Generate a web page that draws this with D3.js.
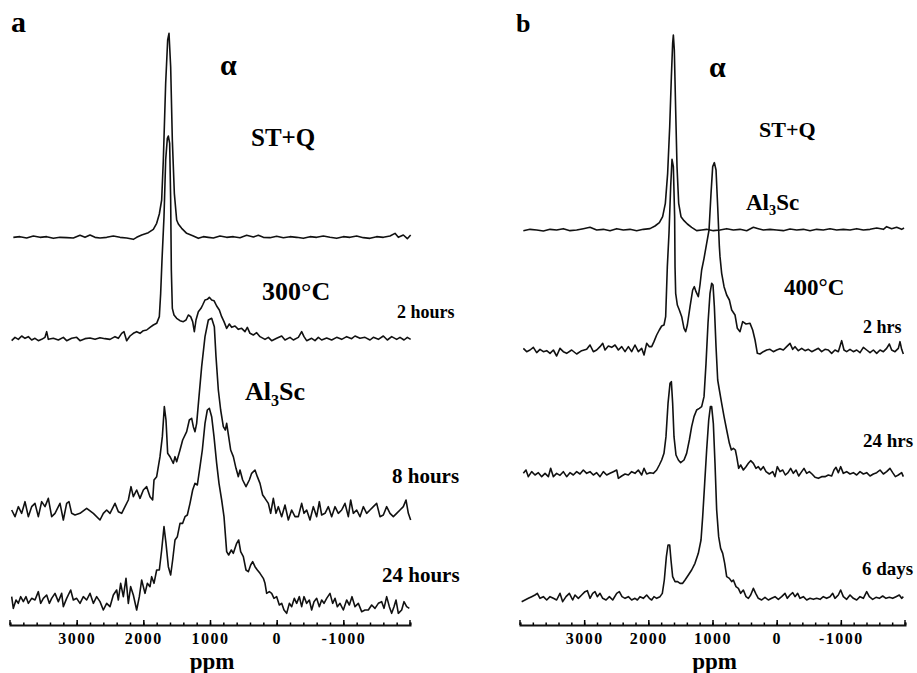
<!DOCTYPE html>
<html>
<head>
<meta charset="utf-8">
<script src="https://cdn.jsdelivr.net/npm/d3@7"></script>
<style>
  html, body { margin: 0; padding: 0; background: #fff; }
  svg { display: block; }
  text { font-family: "Liberation Serif", "Times New Roman", serif; font-weight: bold; fill: #000; }
</style>
</head>
<body>
<svg id="chart" width="917" height="673"></svg>
<script>
// ---------------- DATA ----------------
const ppmDomain = [4000, -2000];
const majorTicks = [3000, 2000, 1000, 0, -1000];
const tickLabels = ["3000", "2000", "1000", "0", "-1000"];
const minorTicks = d3.range(-2000, 4001, 200);

// Panel a (300 C) : [ppm, intensity (a.u.)]
const a_STQ = [[3950,0],[3850,2],[3750,-2],[3650,4],[3550,0],[3450,2],[3350,-3],[3250,0],[3150,-1],[3050,-2],[2950,6],[2875,0],[2800,7],[2725,0],[2650,-2],[2550,0],[2450,4],[2350,0],[2250,-2],[2150,-6],[2100,0],[2025,7],[1925,14],[1850,24],[1800,42],[1760,70],[1725,112],[1700,232],[1665,462],[1635,592],[1615,612],[1590,512],[1565,292],[1535,132],[1500,52],[1475,40],[1425,27],[1350,12],[1250,4],[1175,-3],[1100,2],[1025,0],[950,-2],[850,4],[750,0],[650,2],[550,-1],[450,6],[350,1],[275,6],[200,0],[100,-1],[0,3],[-100,-1],[-200,2],[-300,0],[-400,-3],[-500,2],[-600,0],[-700,4],[-800,0],[-900,-3],[-1000,2],[-1100,0],[-1200,4],[-1300,-1],[-1400,-3],[-1500,2],[-1600,0],[-1700,4],[-1775,12],[-1825,0],[-1900,7],[-1960,-4],[-2010,7]];

const a_2h = [[3975,-4],[3925,6],[3875,0],[3825,10],[3775,3],[3725,8],[3675,-2],[3625,3],[3575,-4],[3525,0],[3475,6],[3450,23],[3425,0],[3350,3],[3275,-2],[3200,6],[3150,-4],[3075,3],[3000,6],[2950,-4],[2875,2],[2800,4],[2725,0],[2650,5],[2575,2],[2500,0],[2425,8],[2375,3],[2325,18],[2290,23],[2250,-4],[2200,10],[2150,18],[2100,23],[2050,18],[2000,26],[1950,28],[1900,36],[1850,43],[1800,48],[1760,68],[1740,138],[1720,238],[1690,368],[1665,538],[1640,603],[1625,610],[1605,588],[1590,418],[1580,208],[1565,93],[1540,73],[1500,63],[1450,56],[1400,53],[1360,58],[1325,73],[1290,68],[1260,53],[1235,23],[1210,58],[1175,83],[1135,93],[1110,103],[1075,118],[1040,120],[1010,126],[975,118],[940,116],[900,100],[860,88],[825,68],[790,53],[750,33],[710,46],[675,36],[625,40],[575,30],[525,33],[475,23],[440,36],[400,18],[350,13],[300,20],[250,8],[175,0],[125,6],[75,-4],[0,3],[-75,10],[-125,-2],[-200,6],[-250,-2],[-325,6],[-375,23],[-410,8],[-450,-4],[-525,3],[-575,-4],[-625,6],[-675,-2],[-750,4],[-825,-2],[-900,6],[-975,0],[-1050,8],[-1125,2],[-1175,10],[-1250,3],[-1325,6],[-1400,-2],[-1450,6],[-1525,0],[-1600,10],[-1660,-2],[-1725,8],[-1800,0],[-1850,6],[-1910,-2],[-1960,6],[-2010,0]];

const a_8h = [[3975,10],[3925,-10],[3875,20],[3825,0],[3775,35],[3725,-10],[3675,20],[3625,30],[3575,-10],[3525,35],[3475,20],[3425,45],[3375,-10],[3325,0],[3250,30],[3200,-20],[3150,30],[3115,35],[3075,0],[3025,-5],[2950,0],[2850,15],[2750,0],[2650,-20],[2600,0],[2550,10],[2500,0],[2425,30],[2375,5],[2325,0],[2275,20],[2225,40],[2185,80],[2150,50],[2100,70],[2050,45],[2000,70],[1950,80],[1900,50],[1860,40],[1840,100],[1800,110],[1750,170],[1715,230],[1685,320],[1660,280],[1635,180],[1600,170],[1575,160],[1550,150],[1525,170],[1500,155],[1450,190],[1410,220],[1350,245],[1310,280],[1275,285],[1250,260],[1225,245],[1200,270],[1165,350],[1125,440],[1075,530],[1025,580],[975,585],[935,560],[910,470],[875,370],[840,310],[800,260],[770,250],[750,270],[720,230],[690,190],[650,170],[610,135],[575,110],[550,130],[510,100],[460,80],[410,100],[375,120],[325,130],[290,110],[250,90],[210,55],[175,45],[125,30],[90,0],[50,45],[10,0],[-25,20],[-75,-10],[-125,25],[-175,-20],[-225,10],[-275,-10],[-325,-10],[-375,30],[-410,0],[-450,10],[-500,-20],[-550,20],[-600,-10],[-640,35],[-675,-5],[-725,0],[-775,20],[-825,-10],[-875,20],[-925,0],[-975,10],[-1025,30],[-1075,-10],[-1110,40],[-1150,0],[-1200,10],[-1250,-10],[-1300,20],[-1350,0],[-1400,10],[-1450,20],[-1500,30],[-1550,-10],[-1600,-5],[-1650,20],[-1700,0],[-1750,-10],[-1800,0],[-1850,10],[-1900,20],[-1940,40],[-1975,0],[-2010,-20]];

const a_24h = [[3975,25],[3950,-10],[3910,15],[3875,5],[3840,25],[3800,10],[3760,25],[3725,5],[3675,20],[3625,15],[3575,40],[3540,5],[3500,20],[3450,30],[3410,5],[3375,20],[3325,35],[3275,10],[3225,35],[3200,-5],[3150,20],[3090,45],[3050,15],[3000,20],[2950,5],[2900,25],[2850,15],[2800,35],[2750,5],[2700,25],[2650,10],[2600,-15],[2550,5],[2500,-5],[2450,30],[2400,45],[2375,15],[2340,65],[2300,25],[2260,80],[2225,5],[2190,55],[2150,30],[2100,-15],[2060,25],[2025,75],[1975,35],[1940,65],[1900,55],[1875,85],[1840,65],[1800,105],[1760,105],[1725,165],[1690,235],[1660,185],[1625,115],[1590,90],[1560,135],[1525,195],[1490,205],[1450,245],[1410,245],[1375,265],[1340,270],[1300,305],[1260,345],[1225,365],[1190,360],[1150,415],[1115,465],[1075,545],[1040,585],[1010,590],[975,565],[940,505],[900,425],[865,365],[825,315],[790,265],[750,160],[720,150],[680,165],[650,155],[600,185],[570,195],[540,160],[500,145],[460,105],[425,100],[390,120],[360,130],[325,115],[290,105],[250,95],[200,80],[175,65],[150,35],[110,40],[75,35],[40,20],[0,25],[-40,0],[-75,5],[-110,-15],[-150,-25],[-190,5],[-225,-5],[-265,20],[-300,5],[-340,25],[-375,-5],[-410,25],[-450,5],[-490,15],[-525,-15],[-560,10],[-600,20],[-640,-5],[-675,15],[-710,5],[-750,20],[-800,35],[-840,5],[-875,20],[-910,-5],[-950,5],[-1000,-15],[-1050,15],[-1090,0],[-1130,25],[-1175,-5],[-1225,5],[-1275,-20],[-1325,-15],[-1375,-15],[-1425,0],[-1475,-10],[-1525,5],[-1575,10],[-1610,-10],[-1650,25],[-1690,-5],[-1725,-25],[-1760,-5],[-1790,15],[-1825,-25],[-1875,-15],[-1910,10],[-1950,-5],[-1990,-10]];

// Panel b (400 C)
const b_STQ = [[3948,-2],[3844,2],[3740,0],[3636,-3],[3532,2],[3429,0],[3325,4],[3221,-2],[3117,0],[3013,4],[2909,8],[2805,0],[2701,2],[2597,-2],[2493,4],[2390,0],[2286,2],[2182,-2],[2078,2],[1974,4],[1896,12],[1828,22],[1777,40],[1735,80],[1699,170],[1667,310],[1641,460],[1621,560],[1610,585],[1595,540],[1574,360],[1553,190],[1527,80],[1491,40],[1444,28],[1392,18],[1325,8],[1247,-2],[1169,0],[1091,2],[987,-2],[883,0],[779,4],[675,0],[571,2],[467,-2],[363,8],[286,4],[208,0],[104,2],[0,0],[-104,-2],[-208,3],[-312,0],[-416,2],[-520,-2],[-623,2],[-727,0],[-831,4],[-935,0],[-1039,2],[-1143,0],[-1247,4],[-1351,0],[-1455,2],[-1559,6],[-1663,2],[-1714,10],[-1792,4],[-1870,8],[-1948,2],[-1985,6]];

const b_2h = [[3948,10],[3896,0],[3844,5],[3792,13],[3740,-3],[3688,7],[3636,0],[3584,3],[3532,-5],[3480,5],[3429,-13],[3377,10],[3325,0],[3273,-5],[3195,5],[3117,-7],[3039,3],[2961,7],[2909,20],[2857,0],[2805,5],[2753,15],[2711,25],[2675,5],[2623,17],[2571,13],[2519,20],[2467,5],[2415,15],[2363,0],[2311,15],[2260,0],[2208,20],[2156,0],[2104,10],[2067,-10],[2026,25],[1984,15],[1948,15],[1912,30],[1870,50],[1829,65],[1792,77],[1756,80],[1730,105],[1704,255],[1678,355],[1652,495],[1631,577],[1610,555],[1590,405],[1584,255],[1574,175],[1548,140],[1517,125],[1480,105],[1444,70],[1418,60],[1392,80],[1350,135],[1309,185],[1283,195],[1257,180],[1221,165],[1195,200],[1169,245],[1132,280],[1091,325],[1054,365],[1023,475],[997,555],[971,567],[945,545],[919,435],[893,315],[883,285],[857,235],[820,195],[779,170],[737,155],[701,125],[649,110],[613,70],[571,60],[530,90],[478,83],[415,85],[374,65],[337,35],[301,-5],[260,-7],[208,0],[156,5],[104,7],[52,0],[0,5],[-52,9],[-104,5],[-156,15],[-208,25],[-250,7],[-286,15],[-338,3],[-390,10],[-442,3],[-494,7],[-546,0],[-598,5],[-650,10],[-701,0],[-753,7],[-805,5],[-857,-5],[-909,5],[-961,0],[-1013,33],[-1049,5],[-1091,0],[-1143,7],[-1195,0],[-1247,5],[-1299,-3],[-1351,13],[-1403,5],[-1455,-3],[-1507,5],[-1559,-5],[-1611,5],[-1663,0],[-1714,10],[-1756,23],[-1792,5],[-1844,0],[-1896,10],[-1922,30],[-1948,7],[-1974,-7]];

const b_24h = [[3948,5],[3907,15],[3870,-5],[3818,10],[3766,0],[3714,7],[3662,-5],[3610,5],[3558,-5],[3522,20],[3480,-5],[3429,5],[3377,-1],[3325,10],[3273,-5],[3221,7],[3169,0],[3117,10],[3065,3],[3013,15],[2961,5],[2909,10],[2857,0],[2805,7],[2753,-5],[2701,10],[2649,0],[2597,5],[2545,10],[2493,15],[2467,-10],[2415,-3],[2363,3],[2311,0],[2260,10],[2208,5],[2156,15],[2104,0],[2067,20],[2026,3],[1974,7],[1922,5],[1870,15],[1829,30],[1792,45],[1756,65],[1725,115],[1693,215],[1662,275],[1641,280],[1621,215],[1600,115],[1569,60],[1532,45],[1496,37],[1444,45],[1403,65],[1361,105],[1325,145],[1288,175],[1247,195],[1205,200],[1169,205],[1132,235],[1101,335],[1070,455],[1039,545],[1013,575],[992,570],[971,505],[945,385],[919,285],[893,255],[857,215],[820,175],[779,135],[737,95],[706,75],[675,80],[644,75],[623,55],[592,20],[561,30],[519,15],[478,25],[441,35],[405,43],[363,35],[322,20],[286,25],[249,15],[208,25],[166,10],[114,3],[62,10],[26,-5],[-10,25],[-52,10],[-94,15],[-135,0],[-177,7],[-218,20],[-260,5],[-302,15],[-343,-3],[-390,10],[-426,20],[-468,5],[-509,10],[-551,3],[-598,-7],[-650,-10],[-701,-5],[-753,-5],[-805,0],[-857,-3],[-893,15],[-925,23],[-961,7],[-997,25],[-1039,5],[-1091,10],[-1143,3],[-1195,7],[-1247,0],[-1299,10],[-1351,3],[-1403,7],[-1455,-3],[-1507,3],[-1559,7],[-1611,15],[-1663,3],[-1714,10],[-1766,20],[-1808,7],[-1850,-5],[-1896,0],[-1948,7],[-1974,-5]];

const b_6d = [[3974,-10],[3922,-5],[3870,0],[3818,5],[3766,10],[3730,15],[3688,0],[3636,5],[3584,-5],[3532,5],[3480,0],[3429,-5],[3377,15],[3335,-10],[3283,5],[3231,15],[3179,-5],[3143,10],[3091,0],[3039,10],[2987,20],[2950,23],[2909,0],[2867,15],[2831,20],[2795,5],[2753,15],[2711,0],[2659,-5],[2607,5],[2555,-5],[2493,15],[2452,20],[2410,5],[2363,0],[2311,5],[2260,-5],[2208,0],[2171,-5],[2130,5],[2078,0],[2026,10],[1984,0],[1948,-5],[1912,5],[1870,0],[1818,5],[1782,15],[1751,55],[1719,125],[1693,160],[1667,160],[1647,115],[1621,65],[1584,50],[1543,50],[1506,45],[1465,45],[1428,55],[1376,70],[1325,85],[1273,105],[1221,135],[1179,175],[1153,245],[1122,345],[1091,445],[1059,535],[1033,575],[1013,575],[987,525],[961,405],[935,265],[904,185],[873,150],[841,135],[810,105],[779,65],[737,60],[701,50],[675,55],[634,35],[597,30],[561,15],[519,25],[478,5],[441,0],[405,10],[363,30],[327,15],[286,0],[234,-5],[182,3],[130,-5],[78,0],[26,5],[-26,-3],[-78,5],[-130,15],[-166,0],[-208,10],[-250,17],[-286,5],[-327,15],[-364,0],[-416,5],[-468,-5],[-520,0],[-572,-3],[-623,0],[-676,-3],[-727,5],[-779,0],[-831,5],[-873,15],[-909,0],[-961,10],[-997,25],[-1039,5],[-1091,-3],[-1143,10],[-1195,0],[-1247,-5],[-1299,5],[-1351,0],[-1403,20],[-1444,5],[-1496,-3],[-1548,3],[-1600,0],[-1652,7],[-1704,0],[-1756,3],[-1808,0],[-1860,5],[-1911,10],[-1948,0],[-1974,5]];

const seriesA = [a_STQ, a_2h, a_8h, a_24h];
const seriesB = [b_STQ, b_2h, b_24h, b_6d];
const offsetsA = [1163, 857, 335, 60];   // vertical stacking offsets (a.u.)
const offsetsB = [1185, 820, 450, 80];

// ---------------- DRAW ----------------
const svg = d3.select("#chart");
const y = d3.scaleLinear().domain([0, 1800]).range([625, 25]);

function panel(series, offsets, xRange) {
  const x = d3.scaleLinear().domain(ppmDomain).range(xRange);
  const g = svg.append("g");
  series.forEach((s, i) => {
    const line = d3.line().x(d => x(d[0])).y(d => y(offsets[i] + d[1]));
    g.append("path").datum(s).attr("d", line)
      .attr("fill", "none").attr("stroke", "#111").attr("stroke-width", 1.6)
      .attr("stroke-linejoin", "round");
  });
  // axis
  const ax = g.append("g").attr("transform", `translate(0,${y(0)})`);
  const minor = d3.axisBottom(x).tickValues(minorTicks).tickSize(-2.5).tickFormat("");
  ax.append("g").call(minor).call(s => s.select(".domain").attr("stroke-width", 2).attr("stroke", "#111"))
    .call(s => s.selectAll(".tick line").attr("stroke-width", 1.5));
  const major = d3.axisBottom(x).tickValues(majorTicks).tickSize(-5).tickPadding(8)
    .tickFormat((d, i) => tickLabels[i]);
  ax.append("g").call(major)
    .call(s => s.select(".domain").remove())
    .call(s => s.selectAll(".tick line").attr("stroke-width", 1.5))
    .call(s => s.selectAll(".tick text").attr("font-family", "Liberation Serif").attr("font-weight", "bold")
      .attr("font-size", 16).attr("letter-spacing", "1.5px"));
  // end ticks
  ax.selectAll(".endtick").data(ppmDomain).enter().append("line")
    .attr("x1", d => x(d)).attr("x2", d => x(d)).attr("y1", 0).attr("y2", -5)
    .attr("stroke", "#111").attr("stroke-width", 1.5);
  g.append("text").attr("x", x(1000) + 2).attr("y", 669).attr("text-anchor", "middle")
    .attr("font-size", 23).text("ppm");
  return { g, x };
}

const A = panel(seriesA, offsetsA, [10, 410]);
const B = panel(seriesB, offsetsB, [520, 905]);

function label(g, txt, px, py, size, anchor) {
  return g.append("text").attr("x", px).attr("y", py).attr("font-size", size)
    .attr("text-anchor", anchor || "start").text(txt);
}
function sub(g, a, s, b, px, py, size) {
  const t = g.append("text").attr("x", px).attr("y", py).attr("font-size", size);
  t.append("tspan").text(a);
  t.append("tspan").attr("font-size", size * 0.62).attr("dy", size * 0.22).text(s);
  t.append("tspan").attr("dy", -size * 0.22).text(b);
}

// panel a labels
label(A.g, "a", 11, 32, 30);
label(A.g, "α", 220, 75, 30).attr("font-weight", "normal");
label(A.g, "ST+Q", 251, 146, 25);
label(A.g, "300°C", 262, 300, 26);
sub(A.g, "Al", "3", "Sc", 245, 400, 26);
label(A.g, "2 hours", 397, 318, 18);
label(A.g, "8 hours", 392, 483, 21);
label(A.g, "24 hours", 382, 582, 21);

// panel b labels
label(B.g, "b", 516, 32, 26);
label(B.g, "α", 709, 77, 30).attr("font-weight", "normal");
label(B.g, "ST+Q", 759, 137, 22);
sub(B.g, "Al", "3", "Sc", 746, 210, 23);
label(B.g, "400°C", 784, 295, 23);
label(B.g, "2 hrs", 863, 333, 18);
label(B.g, "24 hrs", 863, 447, 19);
label(B.g, "6 days", 862, 575, 19);
</script>
</body>
</html>
